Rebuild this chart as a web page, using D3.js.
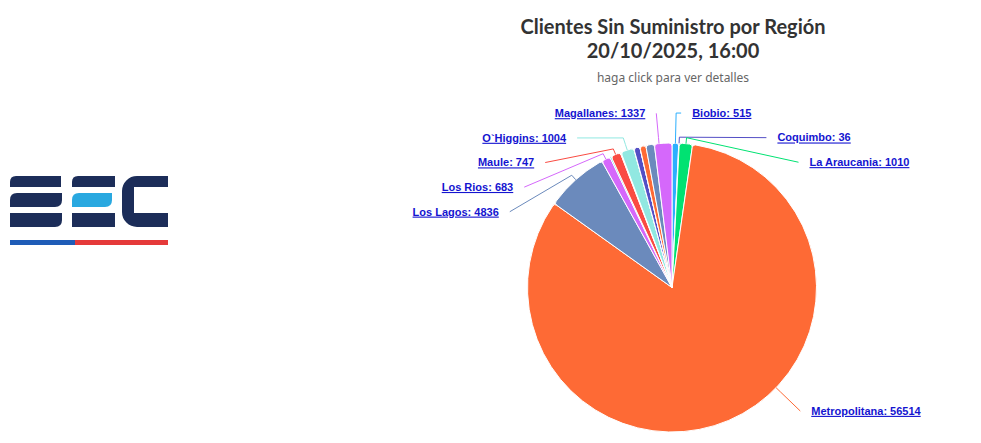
<!DOCTYPE html>
<html>
<head>
<meta charset="utf-8">
<script src="https://cdn.jsdelivr.net/npm/d3@7"></script>
<style>
body{margin:0;background:#fff;}
.lbl{font-family:"Liberation Sans",Arial,sans-serif;font-weight:bold;font-size:11px;fill:#1414d0;text-decoration:underline;}
.tit{font-family:Lato,sans-serif;font-weight:bold;font-size:20px;fill:#333;}
</style>
</head>
<body>
<svg id="chart"></svg>
<script>
const width=981;
const height=443;

// datos (orden de la serie tal como se ve en el grafico, desde las 12 en sentido horario)
const regiones=["Biobio","Coquimbo","La Araucania","Metropolitana","Los Lagos","Los Rios","Ñuble","Maule","Atacama","O`Higgins","Arica y Parinacota","Tarapaca","Aysen","Antofagasta","Valparaiso","Magallanes"];
const clientes=[515,36,1010,56514,4836,683,100,747,60,1004,10,460,10,460,650,1337];
const colores=["#2caffe","#544fc5","#00e272","#fe6a35","#6b8abc","#d568fb","#2ee0ca","#fa4b42","#feb56a","#91e8e1"];

const titulo=["Clientes Sin Suministro por Región","20/10/2025, 16:00"];
const subtitulo="haga click para ver detalles";

const cx=672, cy=287.5, r=144.5;
const labelDist=30, connPad=5, step=24.6;

const svg=d3.select("#chart").attr("width",width).attr("height",height);

// logo SEC
const logo=svg.append("g");
const navy="#1c2d59";
logo.append("path").attr("fill",navy).attr("d","M10,187 V182 Q10,176 16,176 H61 V187 Z");
logo.append("path").attr("fill",navy).attr("d","M10,207 V200 Q10,193 17,193 H62 V200 Q62,207 55,207 Z");
logo.append("path").attr("fill",navy).attr("d","M10,213 H62 V220 Q62,227 55,227 H10 Z");
logo.append("path").attr("fill",navy).attr("d","M72,187 V182 Q72,176 78,176 H115 V187 Z");
logo.append("path").attr("fill","#29a8e0").attr("d","M72,207 V200 Q72,193 79,193 H112 V200 Q112,207 105,207 Z");
logo.append("path").attr("fill",navy).attr("d","M72,213 H115 V227 H72 Z");
logo.append("path").attr("fill",navy).attr("d","M168,176 H137 A15,15 0 0 0 122,191 V212 A15,15 0 0 0 137,227 H168 V213 H134 V187 H168 Z");
logo.append("rect").attr("x",10).attr("y",240).attr("width",65).attr("height",5).attr("fill","#1f5cb7");
logo.append("rect").attr("x",75).attr("y",240).attr("width",93).attr("height",5).attr("fill","#e53a3a");

// titulos
titulo.forEach((t,i)=>{
  svg.append("text").attr("class","tit").attr("x",cx+1).attr("y",34+i*24)
    .attr("text-anchor","middle").text(t);
});
svg.append("text").attr("x",cx+1).attr("y",82).attr("text-anchor","middle")
  .style("font-family","'Noto Sans',sans-serif").style("font-size","12px").attr("fill","#666")
  .text(subtitulo);

const data=regiones.map((d,i)=>({name:d,value:clientes[i],color:colores[i%colores.length]}));

const pie=d3.pie().sort(null).value(d=>d.value);
const arcs=pie(data);
const arc=d3.arc().innerRadius(0).outerRadius(r).cornerRadius(3);

const g=svg.append("g").attr("transform","translate("+cx+","+cy+")");
g.selectAll("path").data(arcs).enter().append("path")
  .attr("d",arc)
  .attr("fill",d=>d.data.color)
  .attr("stroke","#fff")
  .attr("stroke-width",1)
  .attr("stroke-linejoin","round");

// etiquetas
const R=r+labelDist;
const minY=cy-R, maxY=height-32;
arcs.forEach(a=>{
  a.mid=(a.startAngle+a.endAngle)/2;
  a.left=a.mid>Math.PI;
  a.ty=cy-R*Math.cos(a.mid);
});

function pack(list){
  list.sort((a,b)=>a.ty-b.ty);
  let prev=-Infinity;
  list.forEach(l=>{l.y=Math.max(l.ty,prev+step,minY);prev=l.y;});
  let next=Infinity;
  for(let i=list.length-1;i>=0;i--){list[i].y=Math.min(list[i].y,next-step,maxY);next=list[i].y;}
  return d3.max(list,l=>Math.abs(l.y-l.ty));
}

let shown=[];
[true,false].forEach(side=>{
  const cands=arcs.filter(a=>a.left===side).sort((a,b)=>b.value-a.value);
  let acc=[];
  cands.forEach(c=>{
    const trial=acc.concat([c]);
    if(pack(trial)<=60) acc=trial;
  });
  pack(acc);
  shown=shown.concat(acc);
});

shown.forEach(a=>{
  const s=a.left?-1:1;
  const dy=a.y-cy;
  const w=Math.sqrt(Math.max(0,R*R-dy*dy));
  a.x=cx+s*(w+connPad);
  // angulo del conector: si la etiqueta cae dentro del sector, apuntar hacia ella
  let ang=Math.atan2(a.x-cx,cy-a.y);
  if(ang<0) ang+=2*Math.PI;
  if(!(ang>a.startAngle && ang<a.endAngle)) ang=a.mid;
  const sin=Math.sin(ang), cos=Math.cos(ang);
  const brk=[cx+(r+labelDist/5)*sin, cy-(r+labelDist/5)*cos];
  const touch=[cx+r*sin, cy-r*cos];
  const crookX=cx+(cy-a.y)*sin/cos;
  const pts=[[a.x,a.y]];
  const ok=a.left ? (crookX>=a.x && crookX<=brk[0]) : (crookX<=a.x && crookX>=brk[0]);
  if(ok) pts.push([crookX,a.y]);
  pts.push(brk,touch);
  svg.append("path").attr("d",d3.line()(pts)).attr("fill","none")
    .attr("stroke",a.data.color).attr("stroke-width",1);
  svg.append("text").attr("class","lbl")
    .attr("x",a.x+s*11).attr("y",a.y).attr("dy","0.35em")
    .attr("text-anchor",a.left?"end":"start")
    .text(a.data.name+": "+a.data.value);
});
</script>
</body>
</html>
